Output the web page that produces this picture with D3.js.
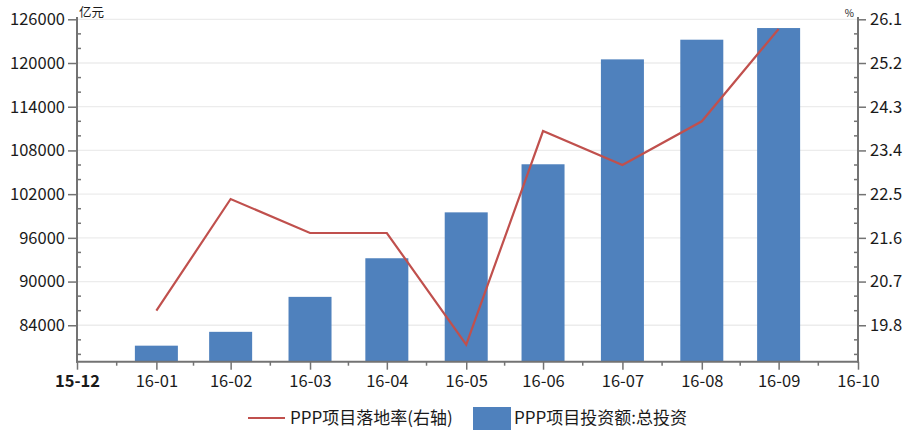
<!DOCTYPE html>
<html>
<head>
<meta charset="utf-8">
<script src="https://cdn.jsdelivr.net/npm/d3@7"></script>
<style>
  html, body { margin: 0; padding: 0; background: #fff; }
  svg { display: block; }
  text { font-family: "Noto Sans CJK SC", "Noto Sans", sans-serif; fill: #1a1a1a; }
</style>
</head>
<body>
<svg id="chart" width="906" height="430"></svg>
<script>
// Month-end observation dates
const months = ["2016-01-31","2016-02-29","2016-03-31","2016-04-30","2016-05-31",
                "2016-06-30","2016-07-31","2016-08-31","2016-09-30"];
// PPP项目投资额:总投资 (亿元)
const investment = [81200, 83100, 87900, 93200, 99500, 106100, 120500, 123200, 124800];
// PPP项目落地率 (%)
const landingRate = [20.1, 22.4, 21.7, 21.7, 19.4, 23.8, 23.1, 24.0, 25.9];

// Axis ticks
const xTickDates = ["2015-12-31","2016-01-31","2016-02-29","2016-03-31","2016-04-30","2016-05-31",
                    "2016-06-30","2016-07-31","2016-08-31","2016-09-30","2016-10-31"];
const leftTicks = [84000, 90000, 96000, 102000, 108000, 114000, 120000, 126000];
const rightTicks = [19.8, 20.7, 21.6, 22.5, 23.4, 24.3, 25.2, 26.1];
const leftUnit = "亿元";
const rightUnit = "%";
const seriesNames = ["PPP项目落地率(右轴)", "PPP项目投资额:总投资"];

const parse = d3.timeParse("%Y-%m-%d");
const fmtMonth = d3.timeFormat("%y-%m");
const dates = months.map(parse);
const tickDates = xTickDates.map(parse);

const svg = d3.select("#chart");
const L = 77, R = 858, T = 19.3, B = 361.7;
const barColor = "#4f81bd", lineColor = "#c0504d", axisColor = "#737373";
const tickFont = 16.5;

const x = d3.scaleTime().domain([tickDates[0], tickDates[tickDates.length - 1]]).range([L, R]);
const yL = d3.scaleLinear().domain([79000, 126000]).range([B, T]);
const yR = d3.scaleLinear().domain([19.05, 26.1]).range([B, T]);

// Gridlines
svg.append("g").selectAll("line").data(leftTicks).join("line")
  .attr("x1", L).attr("x2", R)
  .attr("y1", d => yL(d)).attr("y2", d => yL(d))
  .attr("stroke", "#ececec").attr("stroke-width", 1.3);

// Bars
const barW = 43;
svg.append("g").selectAll("rect").data(investment).join("rect")
  .attr("x", (d, i) => x(dates[i]) - barW / 2)
  .attr("y", d => yL(d))
  .attr("width", barW)
  .attr("height", d => B - yL(d))
  .attr("fill", barColor);

// Line
const line = d3.line().x((d, i) => x(dates[i])).y(d => yR(d));
svg.append("path").datum(landingRate)
  .attr("d", line)
  .attr("fill", "none")
  .attr("stroke", lineColor)
  .attr("stroke-width", 2.2)
  .attr("stroke-linejoin", "miter");

// Minor tick helpers
function minorBetween(ticks, step, lo, hi) {
  const out = [];
  for (let v = lo; v <= hi + 1e-9; v += step) {
    const r = Math.round(v * 1000) / 1000;
    if (!ticks.some(t => Math.abs(t - r) < 1e-6)) out.push(r);
  }
  return out;
}

function styleTicks(g) {
  g.selectAll(".tick line").attr("stroke", axisColor).attr("stroke-width", 1.5);
  g.selectAll(".tick text").attr("font-size", tickFont)
    .style("font-family", '"Noto Sans CJK SC", sans-serif').attr("fill", "#1a1a1a");
}

// Left axis
const gL = svg.append("g").attr("transform", `translate(${L},0)`);
gL.call(d3.axisLeft(yL).tickValues(leftTicks).tickSize(9).tickPadding(3).tickFormat(d3.format("d")));
gL.select(".domain").remove();
gL.append("line").attr("x1", 0).attr("x2", 0).attr("y1", 17).attr("y2", B + 1)
  .attr("stroke", axisColor).attr("stroke-width", 2);
styleTicks(gL);
gL.selectAll(".minor").data(minorBetween(leftTicks, 2000, 80000, 124000)).join("line")
  .attr("class", "minor")
  .attr("x1", 0).attr("x2", 4).attr("y1", d => yL(d)).attr("y2", d => yL(d))
  .attr("stroke", axisColor).attr("stroke-width", 1.5);

// Right axis
const gR = svg.append("g").attr("transform", `translate(${R},0)`);
gR.call(d3.axisRight(yR).tickValues(rightTicks).tickSize(8).tickPadding(4).tickFormat(d3.format(".1f")));
gR.select(".domain").remove();
gR.append("line").attr("x1", 0).attr("x2", 0).attr("y1", 17).attr("y2", B + 1)
  .attr("stroke", axisColor).attr("stroke-width", 2);
styleTicks(gR);
gR.selectAll(".minor").data(minorBetween(rightTicks, 0.3, 19.2, 25.8)).join("line")
  .attr("class", "minor")
  .attr("x1", 0).attr("x2", -4).attr("y1", d => yR(d)).attr("y2", d => yR(d))
  .attr("stroke", axisColor).attr("stroke-width", 1.5);

// Bottom axis
const gB = svg.append("g").attr("transform", `translate(0,${B})`);
gB.call(d3.axisBottom(x).tickValues(tickDates).tickSize(8).tickPadding(6).tickFormat(fmtMonth));
gB.select(".domain").remove();
gB.append("line").attr("x1", L - 1).attr("x2", R + 1).attr("y1", 0).attr("y2", 0)
  .attr("stroke", axisColor).attr("stroke-width", 2);
styleTicks(gB);
gB.selectAll(".tick text").filter((d, i) => i === 0).attr("font-weight", 600);
const xMid = d3.pairs(tickDates).map(([a, b]) => new Date((+a + +b) / 2));
gB.selectAll(".minor").data(xMid).join("line")
  .attr("class", "minor")
  .attr("x1", d => x(d)).attr("x2", d => x(d)).attr("y1", 0).attr("y2", 4)
  .attr("stroke", axisColor).attr("stroke-width", 1.5);

// Unit labels
svg.append("text").attr("x", L + 2).attr("y", 17).attr("font-size", 12.5).text(leftUnit);
svg.append("text").attr("x", R - 4).attr("y", 17).attr("font-size", 10).attr("text-anchor", "end").text(rightUnit);

// Legend
const lg = svg.append("g");
lg.append("line").attr("x1", 248).attr("x2", 285).attr("y1", 418).attr("y2", 418)
  .attr("stroke", lineColor).attr("stroke-width", 2.2);
lg.append("text").attr("x", 290).attr("y", 418).attr("dy", "0.35em").attr("font-size", 17).text(seriesNames[0]);
lg.append("rect").attr("x", 473).attr("y", 407).attr("width", 38).attr("height", 23).attr("fill", barColor);
lg.append("text").attr("x", 514).attr("y", 418).attr("dy", "0.35em").attr("font-size", 17).text(seriesNames[1]);
</script>
</body>
</html>
